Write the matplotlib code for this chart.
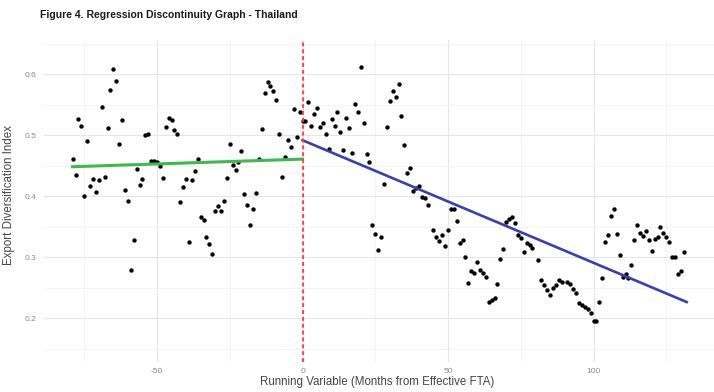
import numpy as np
import matplotlib
matplotlib.use("Agg")
import matplotlib.pyplot as plt

plt.rcParams['font.family'] = ['Liberation Sans', 'DejaVu Sans']

# months before the FTA (left of cutoff) and export diversification index
left_months = list(range(-79, 0))
left_index = [
    0.461, 0.435, 0.527, 0.516, 0.401, 0.490, 0.417, 0.428, 0.407, 0.427,
    0.546, 0.432, 0.512, 0.574, 0.608, 0.589, 0.485, 0.525, 0.410, 0.393,
    0.279, 0.328, 0.445, 0.418, 0.428, 0.501, 0.502, 0.458, 0.458, 0.457,
    0.449, 0.430, 0.513, 0.529, 0.525, 0.508, 0.503, 0.391, 0.416, 0.428,
    0.325, 0.427, 0.442, 0.462, 0.366, 0.361, 0.334, 0.321, 0.305, 0.376,
    0.384, 0.376, 0.393, 0.430, 0.486, 0.451, 0.443, 0.457, 0.474, 0.404,
    0.386, 0.353, 0.379, 0.405, 0.461, 0.510, 0.570, 0.587, 0.581, 0.573,
    0.558, 0.503, 0.431, 0.465, 0.492, 0.481, 0.543, 0.498, 0.538,
]

# months after the FTA (right of cutoff)
right_months = (list(range(0, 44)) + list(range(45, 80)) + list(range(81, 90))
                + list(range(91, 132)))
right_index = [
    0.523, 0.523, 0.554, 0.516, 0.535, 0.545, 0.513, 0.520, 0.502, 0.478,
    0.527, 0.515, 0.538, 0.506, 0.476, 0.528, 0.512, 0.471, 0.551, 0.538,
    0.612, 0.521, 0.469, 0.457, 0.353, 0.338, 0.312, 0.333, 0.421, 0.513,
    0.556, 0.573, 0.563, 0.584, 0.532, 0.484, 0.438, 0.446, 0.409, 0.414,
    0.417, 0.399, 0.397, 0.386, 0.345, 0.333, 0.327, 0.336, 0.319, 0.344,
    0.379, 0.379, 0.360, 0.323, 0.328, 0.300, 0.258, 0.278, 0.275, 0.293,
    0.280, 0.275, 0.268, 0.226, 0.230, 0.234, 0.257, 0.298, 0.314, 0.358,
    0.363, 0.366, 0.356, 0.337, 0.331, 0.309, 0.323, 0.320, 0.315, 0.296,
    0.263, 0.255, 0.246, 0.238, 0.249, 0.255, 0.262, 0.260, 0.259, 0.256,
    0.248, 0.241, 0.225, 0.221, 0.219, 0.216, 0.209, 0.195, 0.195, 0.226,
    0.266, 0.325, 0.336, 0.367, 0.379, 0.339, 0.303, 0.268, 0.273, 0.266,
    0.287, 0.328, 0.353, 0.340, 0.335, 0.343, 0.328, 0.310, 0.330, 0.333,
    0.350, 0.340, 0.333, 0.325, 0.301, 0.301, 0.273, 0.278, 0.309,
]

# linear fits on each side: (intercept at cutoff, slope per month)
left_fit = (0.461, 0.000158)
right_fit = (0.492, -0.00201)
left_span = (-79, 0)
right_span = (0, 132)

x_ticks = [-50, 0, 50, 100]
y_ticks = [0.2, 0.3, 0.4, 0.5, 0.6]

fig = plt.figure(figsize=(7.14, 3.92), dpi=100)
ax = fig.add_axes([43.5 / 714, 1 - 362.2 / 392, 670.8 / 714, 322 / 392])

ax.set_xlim(-89, 141.5)
ax.set_ylim(0.128, 0.656)

ax.set_xticks(x_ticks)
ax.set_xticks([-75, -25, 25, 75, 125], minor=True)
ax.set_yticks(y_ticks)
ax.set_yticks([0.15, 0.25, 0.35, 0.45, 0.55, 0.65], minor=True)
ax.set_xticklabels([str(t) for t in x_ticks])
ax.set_yticklabels([f"{t:.1f}" for t in y_ticks])

ax.grid(which='major', color='#e6e6e6', linewidth=0.8)
ax.grid(which='minor', color='#f0f0f0', linewidth=0.5)
ax.set_axisbelow(True)
for s in ax.spines.values():
    s.set_visible(False)
ax.tick_params(which='both', length=0)
ax.tick_params(axis='y', labelsize=6, labelcolor='#8a8a8a', pad=5)
ax.tick_params(axis='x', labelsize=6, labelcolor='#8a8a8a', pad=4)

ax.scatter(left_months, left_index, s=10, color='black', zorder=3, linewidths=0)
ax.scatter(right_months, right_index, s=10, color='black', zorder=3, linewidths=0)

xl = np.array(left_span)
ax.plot(xl, left_fit[0] + left_fit[1] * xl, color='#3dba4e', linewidth=2.2, zorder=4)
xr = np.array(right_span)
ax.plot(xr, right_fit[0] + right_fit[1] * xr, color='#3a3fb0', linewidth=1.9, zorder=4)

ax.axvline(0, color='#ff3c3c', linestyle=(0, (2.2, 1.6)), linewidth=1.3, zorder=5)

ax.set_xlabel("Running Variable (Months from Effective FTA)", fontsize=8.3, color='#444444')
ax.xaxis.set_label_coords((302.5 + 75 - 43.5) / 670.8, -(376 - 362.2) / 322)
ax.set_ylabel("Export Diversification Index", fontsize=8.3, color='#444444')
ax.yaxis.set_label_coords(-(43.5 - 15) / 670.8, (362.2 - 195) / 322)

fig.text(40 / 714, 1 - 15 / 392, "Figure 4. Regression Discontinuity Graph - Thailand",
         fontsize=7.5, fontweight='bold', color='#1a1a1a', ha='left', va='center')

fig.savefig("out.png", dpi=100)
